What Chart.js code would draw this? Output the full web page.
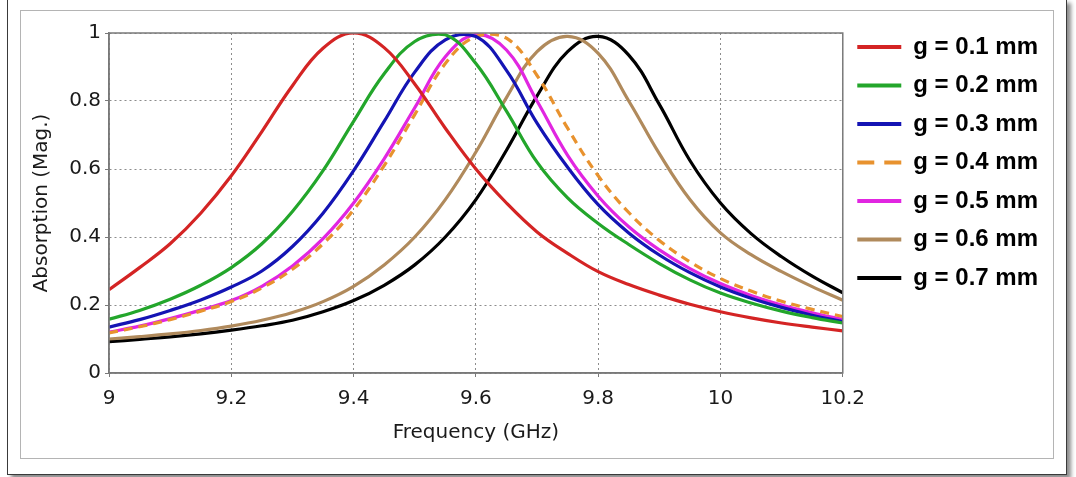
<!DOCTYPE html>
<html>
<head>
<meta charset="utf-8">
<script src="https://cdn.jsdelivr.net/npm/chart.js@4/dist/chart.umd.min.js"></script>
<style>
  html, body { margin:0; padding:0; background:#fff; }
  #outer { position:absolute; left:7px; top:-1px; width:1058px; height:474px; border:1px solid #3a3a3a; box-shadow:4px 4px 4px rgba(0,0,0,0.45); background:#fff; }
  #inner { position:absolute; left:20px; top:10px; width:1032px; height:447px; border:1px solid #b4b4b4; }
  #c { position:absolute; left:0; top:0; }
</style>
</head>
<body>
<div id="outer"></div>
<div id="inner"></div>
<canvas id="c" width="1076" height="477"></canvas>
<script>
// frequency grid (GHz)
const freqs = [9.00, 9.05, 9.10, 9.15, 9.20, 9.25, 9.30, 9.35, 9.40, 9.45, 9.50, 9.55, 9.60,
               9.65, 9.70, 9.75, 9.80, 9.85, 9.90, 9.95, 10.00, 10.05, 10.10, 10.15, 10.20];
const xTicks = [9, 9.2, 9.4, 9.6, 9.8, 10, 10.2];
const yTicks = [0, 0.2, 0.4, 0.6, 0.8, 1];

const labels = ['g = 0.1 mm', 'g = 0.2 mm', 'g = 0.3 mm', 'g = 0.4 mm', 'g = 0.5 mm', 'g = 0.6 mm', 'g = 0.7 mm'];
const colors = ['#d42424', '#23a62b', '#1414b4', '#e8922e', '#e126e1', '#b08a5c', '#000000'];

// absorption values
const g01 = [0.245, 0.31, 0.38, 0.47, 0.58, 0.71, 0.845, 0.955, 1.0, 0.957, 0.85, 0.72, 0.60,
             0.50, 0.415, 0.352, 0.298, 0.26, 0.229, 0.202, 0.18, 0.162, 0.147, 0.135, 0.124];
const g02 = [0.158, 0.184, 0.217, 0.258, 0.31, 0.38, 0.475, 0.595, 0.74, 0.88, 0.975, 0.995, 0.91,
             0.77, 0.62, 0.515, 0.44, 0.378, 0.322, 0.274, 0.235, 0.206, 0.182, 0.163, 0.147];
const g03 = [0.135, 0.157, 0.184, 0.215, 0.253, 0.30, 0.372, 0.47, 0.595, 0.74, 0.885, 0.98, 0.99,
             0.89, 0.735, 0.605, 0.495, 0.412, 0.347, 0.295, 0.253, 0.22, 0.193, 0.17, 0.151];
const g04 = [0.118, 0.136, 0.157, 0.182, 0.21, 0.25, 0.305, 0.38, 0.48, 0.61, 0.76, 0.91, 0.99,
             0.985, 0.875, 0.72, 0.58, 0.472, 0.39, 0.327, 0.278, 0.241, 0.211, 0.187, 0.166];
const g05 = [0.12, 0.138, 0.16, 0.185, 0.213, 0.255, 0.315, 0.395, 0.50, 0.63, 0.78, 0.93, 0.995,
             0.95, 0.80, 0.64, 0.52, 0.43, 0.362, 0.307, 0.263, 0.228, 0.2, 0.177, 0.157];
const g06 = [0.10, 0.107, 0.115, 0.125, 0.138, 0.155, 0.178, 0.21, 0.255, 0.318, 0.40, 0.51, 0.65,
             0.81, 0.945, 0.99, 0.94, 0.80, 0.645, 0.51, 0.412, 0.348, 0.298, 0.254, 0.214];
const g07 = [0.092, 0.099, 0.106, 0.115, 0.126, 0.139, 0.155, 0.18, 0.213, 0.258, 0.318, 0.40, 0.51,
             0.655, 0.815, 0.945, 0.99, 0.935, 0.79, 0.625, 0.50, 0.41, 0.342, 0.285, 0.236];
const series = [g01, g02, g03, g04, g05, g06, g07];

const axisFont = { family:'DejaVu Sans', size:20 };

const plotFrame = {
  id:'plotFrame',
  afterDatasetsDraw(chart) {
    const { ctx, chartArea:a } = chart;
    ctx.save();
    ctx.strokeStyle = '#7a7a7a'; ctx.lineWidth = 1.5;
    ctx.strokeRect(a.left, a.top, a.right - a.left, a.bottom - a.top);
    ctx.restore();
  }
};

new Chart(document.getElementById('c'), {
  type:'line',
  data:{
    datasets: series.map((vals, i) => ({
      label: labels[i],
      data: freqs.map((f, j) => ({ x:f, y:vals[j] })),
      borderColor: colors[i], backgroundColor: colors[i],
      borderWidth: 3.2, pointRadius: 0, fill: false, tension: 0.4,
      borderDash: i === 3 ? [9, 6] : [],
    }))
  },
  options:{
    responsive:false, animation:false, devicePixelRatio:1,
    layout:{ padding:{ left:26, top:20.5, right:28, bottom:28 } },
    plugins:{
      title:{ display:true, text:'', padding:0, font:{ size:10, lineHeight:1.25 } },
      tooltip:{ enabled:false },
      legend:{
        position:'right', align:'start',
        labels:{
          usePointStyle:true, pointStyle:'line', pointStyleWidth:44, padding:14.5,
          color:'#000', font:{ family:'Liberation Sans', size:24, weight:'bold' },
          generateLabels: chart => Chart.defaults.plugins.legend.labels.generateLabels(chart)
            .map((l, i) => ({ ...l, lineWidth:4, lineDash: i === 3 ? [17, 10] : [] })),
        }
      }
    },
    scales:{
      x:{
        type:'linear', min:9, max:10.2,
        afterBuildTicks: s => { s.ticks = xTicks.map(value => ({ value })); },
        afterFit: s => { s.height = 76; },
        ticks:{ color:'#1a1a1a', font:axisFont, padding:10, maxRotation:0, callback: v => String(v) },
        grid:{ color:'#8c8c8c', tickColor:'#7a7a7a', tickLength:4, lineWidth:1 },
        border:{ color:'#7a7a7a', width:1.5, dash:[2, 3] },
        title:{ display:true, text:'Frequency (GHz)', color:'#1a1a1a', font:axisFont, padding:{ top:4, bottom:4 } },
      },
      y:{
        min:0, max:1,
        afterBuildTicks: s => { s.ticks = yTicks.map(value => ({ value })); },
        afterFit: s => { s.width = 83; },
        ticks:{ color:'#1a1a1a', font:axisFont, padding:4, callback: v => String(v) },
        grid:{ color:'#8c8c8c', tickColor:'#7a7a7a', tickLength:4, lineWidth:1 },
        border:{ color:'#7a7a7a', width:1.5, dash:[2, 3] },
        title:{ display:true, text:'Absorption (Mag.)', color:'#1a1a1a', font:axisFont, padding:{ top:4, bottom:4 } },
      }
    }
  },
  plugins:[plotFrame]
});
</script>
</body>
</html>
